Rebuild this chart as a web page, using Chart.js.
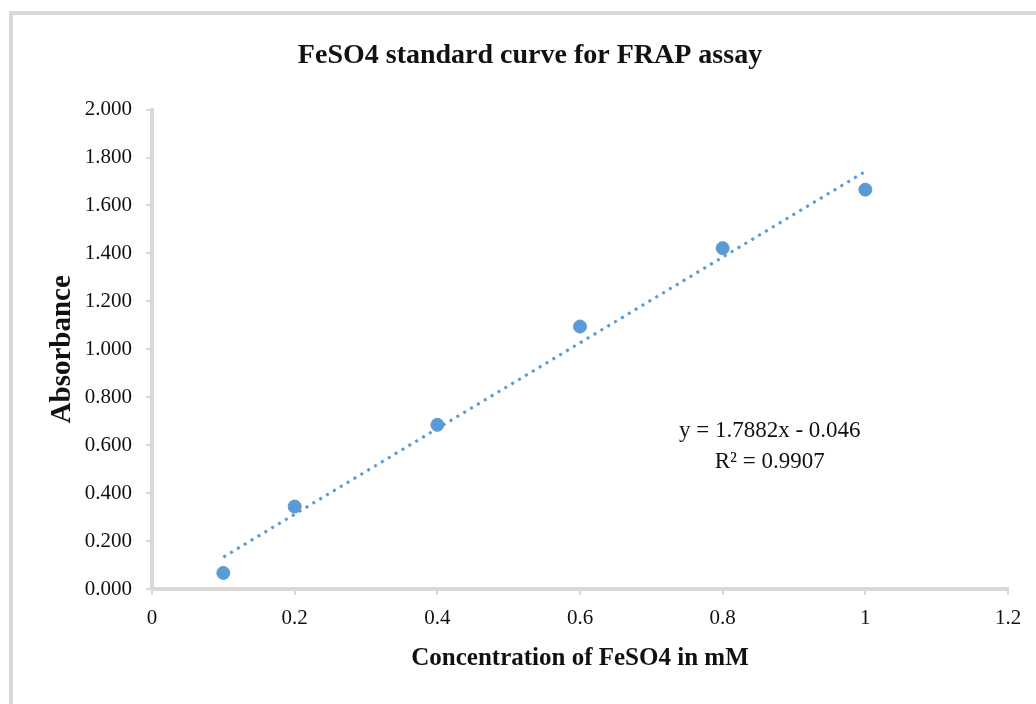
<!DOCTYPE html>
<html>
<head>
<meta charset="utf-8">
<script src="https://cdn.jsdelivr.net/npm/chart.js@4.4.1/dist/chart.umd.min.js"></script>
<style>
  html, body { margin: 0; padding: 0; background: #ffffff; }
  #wrap { position: relative; width: 1036px; height: 704px; overflow: hidden; }
  #frame { position: absolute; left: 9px; top: 11px; width: 1100px; height: 800px;
           border-top: 4px solid #d9d9d9; border-left: 4px solid #d9d9d9; }
  canvas { position: absolute; left: 0; top: 0; }
</style>
</head>
<body>
<div id="wrap">
  <div id="frame"></div>
  <canvas id="c" width="1036" height="704"></canvas>
</div>
<script>
// ---- data ----
const concentrations = [0.1, 0.2, 0.4, 0.6, 0.8, 1.0];
const absorbances    = [0.067, 0.344, 0.685, 1.095, 1.422, 1.666];
const trendX = [0.1, 1.0];
const trendY = [0.133, 1.742];
const xTickValues = [0, 0.2, 0.4, 0.6, 0.8, 1, 1.2];
const xTickLabels = ['0', '0.2', '0.4', '0.6', '0.8', '1', '1.2'];
const yTickLabels = ['0.000','0.200','0.400','0.600','0.800','1.000','1.200','1.400','1.600','1.800','2.000'];
const chartTitle = 'FeSO4 standard curve for FRAP assay';
const xTitle = 'Concentration of FeSO4 in mM';
const yTitle = 'Absorbance';
const equationLines = ['y = 1.7882x - 0.046', 'R\u00B2 = 0.9907'];
const equationAnchor = { x: 0.866, y: [0.658, 0.532] };

const FONT = "'Liberation Serif', 'Times New Roman', serif";
const BLUE = '#5b9bd5';
const AXIS = '#d9d9d9';

const equationPlugin = {
  id: 'equation',
  afterDatasetsDraw(chart) {
    const { ctx, scales } = chart;
    ctx.save();
    ctx.font = '23px ' + FONT;
    ctx.fillStyle = '#111111';
    ctx.textAlign = 'center';
    ctx.textBaseline = 'middle';
    const px = scales.x.getPixelForValue(equationAnchor.x);
    equationLines.forEach((t, i) => {
      ctx.fillText(t, px, scales.y.getPixelForValue(equationAnchor.y[i]));
    });
    ctx.restore();
  }
};

new Chart(document.getElementById('c'), {
  type: 'scatter',
  data: {
    datasets: [
      {
        label: 'Absorbance',
        data: concentrations.map((x, i) => ({ x, y: absorbances[i] })),
        backgroundColor: BLUE,
        borderColor: BLUE,
        pointStyle: 'circle',
        pointRadius: 6.5,
        pointHoverRadius: 6.5,
        showLine: false,
        order: 1
      },
      {
        label: 'Linear trend',
        data: trendX.map((x, i) => ({ x, y: trendY[i] })),
        showLine: true,
        borderColor: BLUE,
        borderWidth: 3,
        borderDash: [3, 5],
        pointRadius: 0,
        fill: false,
        order: 2
      }
    ]
  },
  options: {
    responsive: false,
    animation: false,
    devicePixelRatio: 1,
    layout: { padding: { left: 52, right: 28, top: 0, bottom: 0 } },
    plugins: {
      legend: { display: false },
      tooltip: { enabled: false },
      title: {
        display: true,
        text: chartTitle,
        color: '#111111',
        font: { family: FONT, size: 28, weight: 'bold' },
        padding: { top: 39, bottom: 37 }
      }
    },
    scales: {
      x: {
        type: 'linear',
        min: 0,
        max: 1.2,
        afterBuildTicks(scale) { scale.ticks = xTickValues.map(v => ({ value: v })); },
        afterFit(scale) { scale.height = 704 - 589; },
        ticks: {
          color: '#111111',
          font: { family: FONT, size: 21 },
          padding: 11,
          maxRotation: 0,
          callback: (v) => { const i = xTickValues.indexOf(v); return i >= 0 ? xTickLabels[i] : ''; }
        },
        grid: { display: true, drawOnChartArea: false, drawTicks: true, tickLength: 6, color: AXIS, lineWidth: 2 },
        border: { display: true, color: AXIS, width: 4 },
        title: {
          display: true,
          text: xTitle,
          color: '#111111',
          font: { family: FONT, size: 25, weight: 'bold' },
          padding: { top: 0, bottom: 30 }
        }
      },
      y: {
        type: 'linear',
        min: 0,
        max: 2,
        afterFit(scale) { scale.width = 152 - 52; },
        ticks: {
          stepSize: 0.2,
          color: '#111111',
          font: { family: FONT, size: 21 },
          padding: 14,
          callback: (v) => { const i = Math.round(v / 0.2); return yTickLabels[i]; }
        },
        grid: { display: true, drawOnChartArea: false, drawTicks: true, tickLength: 6, color: AXIS, lineWidth: 2 },
        border: { display: true, color: AXIS, width: 4 },
        title: {
          display: true,
          text: yTitle,
          color: '#111111',
          font: { family: FONT, size: 29, weight: 'bold' },
          padding: { top: -7, bottom: 0 }
        }
      }
    }
  },
  plugins: [equationPlugin]
});
</script>
</body>
</html>
